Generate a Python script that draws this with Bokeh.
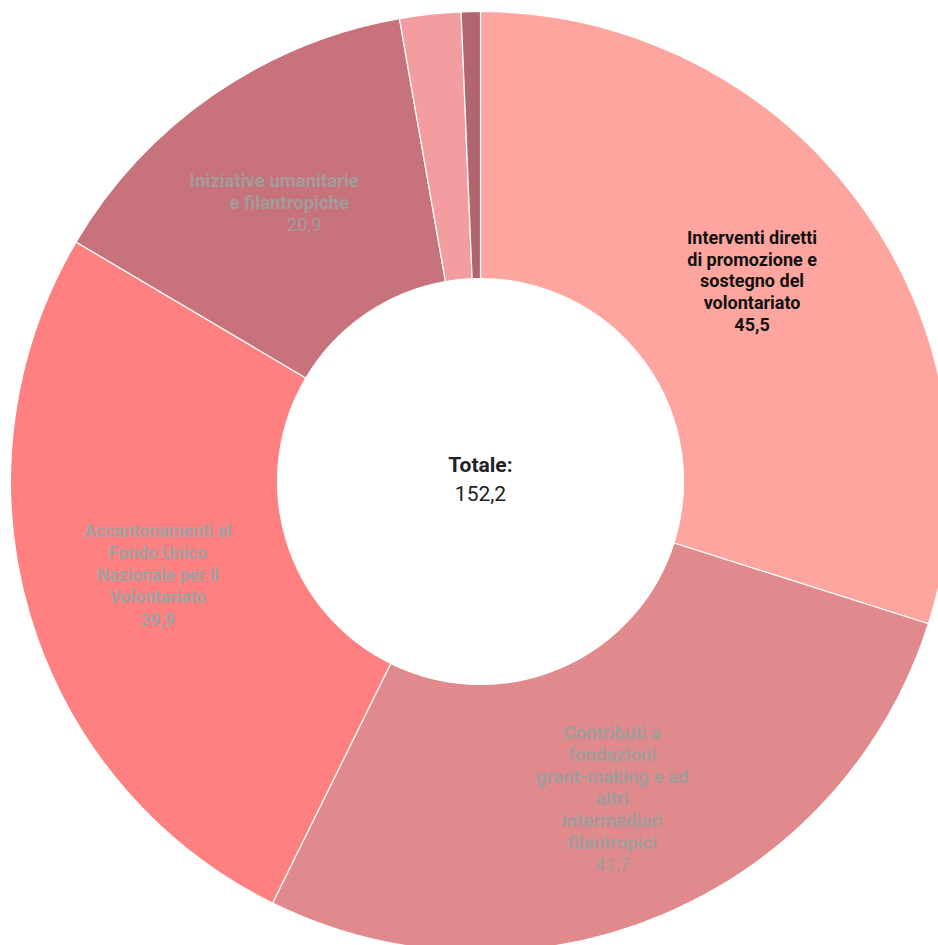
import numpy as np
from bokeh.plotting import figure
from bokeh.models import Range1d, ColumnDataSource
from bokeh.core.properties import value
from bokeh.embed import file_html
from bokeh.resources import INLINE

# ---- data ----
categories = [
    "Interventi diretti di promozione e sostegno del volontariato",
    "Contributi a fondazioni grant-making e ad altri intermediari filantropici",
    "Accantonamenti al Fondo Unico Nazionale per il Volontariato",
    "Iniziative umanitarie e filantropiche",
    "Altro (a)",
    "Altro (b)",
]
label_lines = [
    ["Interventi diretti", "di promozione e", "sostegno del", "volontariato"],
    ["Contributi a", "fondazioni", "grant-making e ad", "altri", "intermediari", "filantropici"],
    ["Accantonamenti al", "Fondo Unico", "Nazionale per il", "Volontariato"],
    ["Iniziative umanitarie", "e filantropiche"],
    [],
    [],
]
values = [45.5, 41.7, 39.9, 20.9, 3.2, 1.0]
value_labels = ["45,5", "41,7", "39,9", "20,9", "", ""]
total_label = "152,2"

# ---- styles ----
colors = ["#FDA59E", "#E08A8D", "#FF8080", "#C8727C", "#F39DA0", "#B0656F"]
label_colors = ["#111111", "#A39B9B", "#A0A0A0", "#A39B9B", "#A0A0A0", "#A0A0A0"]
value_styles = ["bold", "normal", "bold", "normal", "bold", "bold"]
font_sizes = ["18px", "18.5px", "17.5px", "18.5px", "17px", "17px"]
line_steps = [21.8, 21.9, 22.0, 21.8, 22, 22]
label_dy = [2, -8, 2, 2, 0, 0]          # pixel shift (positive = up)
line_dx = [None, None, None, [-15, 0, 15], None, None]

W, H = 938, 945
cx, cy = 480, H - 481
r_out, r_in = 470, 203

vals = np.array(values)
total = vals.sum()
cum_after = np.cumsum(vals)
cum_before = cum_after - vals
start = np.pi / 2 - 2 * np.pi * cum_before / total
end = np.pi / 2 - 2 * np.pi * cum_after / total

p = figure(width=W, height=H, x_range=Range1d(0, W), y_range=Range1d(0, H),
           output_backend="svg", toolbar_location=None, min_border=0,
           outline_line_color=None)
p.axis.visible = False
p.grid.visible = False

wsrc = ColumnDataSource(dict(start=start, end=end, color=colors, cat=categories, val=values))
p.annular_wedge(x=cx, y=cy, inner_radius=r_in, outer_radius=r_out,
                start_angle="start", end_angle="end", direction="clock",
                fill_color="color", line_color="white", line_width=1.2, source=wsrc)

# labels
tx, ty, tt, tc, tw, ts = [], [], [], [], [], []
rm = (r_out + r_in) / 2
for i, v in enumerate(values):
    if not label_lines[i]:
        continue
    mid = np.pi / 2 - 2 * np.pi * (cum_before[i] + v / 2) / total
    lx = cx + rm * np.cos(mid)
    ly = cy + rm * np.sin(mid) + label_dy[i]
    lines = label_lines[i] + [value_labels[i]]
    n = len(lines)
    for k, s in enumerate(lines):
        dx = line_dx[i][k] if line_dx[i] else 0
        tx.append(lx + dx)
        ty.append(ly - (k - (n - 1) / 2) * line_steps[i])
        tt.append(s)
        tc.append(label_colors[i])
        tw.append("bold" if k < n - 1 else value_styles[i])
        ts.append(font_sizes[i])

lsrc = ColumnDataSource(dict(x=tx, y=ty, text=tt, color=tc, style=tw, size=ts))
p.text(x="x", y="y", text="text", text_color="color", text_font_style="style",
       text_font_size="size", text_font=value("Roboto"), text_align="center",
       text_baseline="middle", source=lsrc)

# center total
p.text(x=[cx], y=[cy + 17], text=["Totale:"], text_font=value("Roboto"),
       text_font_style="bold", text_font_size="21px", text_color="#222222",
       text_align="center", text_baseline="middle")
p.text(x=[cx], y=[cy - 12], text=[total_label], text_font=value("Roboto"),
       text_font_size="21px", text_color="#222222",
       text_align="center", text_baseline="middle")

open("out.html", "w").write(file_html(p, INLINE))
